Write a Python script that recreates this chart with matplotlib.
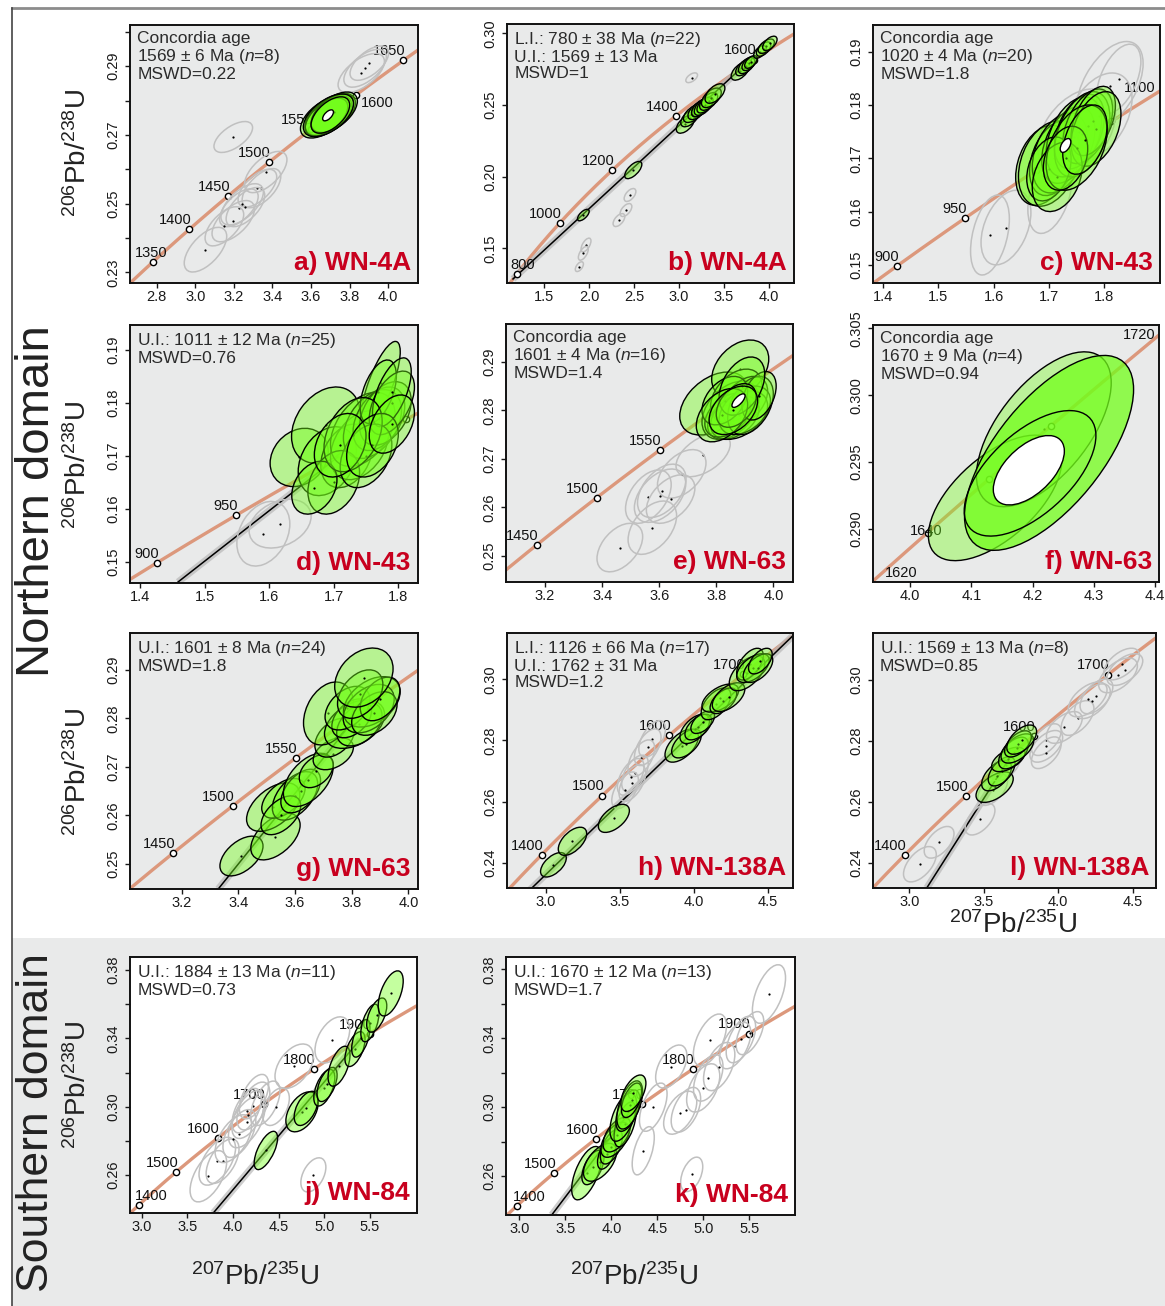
import numpy as np
import matplotlib
matplotlib.use("Agg")
import matplotlib.pyplot as plt
from matplotlib.patches import Ellipse, Rectangle
from matplotlib.lines import Line2D

plt.rcParams['font.family'] = ['Liberation Sans', 'DejaVu Sans']
plt.rcParams['mathtext.fontset'] = 'custom'
plt.rcParams['mathtext.rm'] = 'Liberation Sans'
plt.rcParams['mathtext.it'] = 'Liberation Sans:italic'
plt.rcParams['mathtext.bf'] = 'Liberation Sans:bold'

# ---------------- data ----------------
LAMBDA_238 = 1.55125e-4   # 1/Ma
LAMBDA_235 = 9.8485e-4    # 1/Ma

# ellipses: (207Pb/235U, 206Pb/238U, sx, sy, rho[, fill alpha])
A_GREEN = [(3.67, 0.2751, 0.125, 0.0060, 0.55), (3.70, 0.2760, 0.13, 0.0061, 0.55),
           (3.69, 0.2755, 0.12, 0.0059, 0.55), (3.71, 0.2762, 0.11, 0.0057, 0.55),
           (3.68, 0.2752, 0.11, 0.0055, 0.55), (3.72, 0.2766, 0.12, 0.0059, 0.55),
           (3.69, 0.2757, 0.13, 0.0062, 0.55), (3.70, 0.2758, 0.10, 0.0053, 0.55)]
A_GRAY = [(3.197, 0.2694, 0.10, 0.0045, 0.6), (3.880, 0.2894, 0.11, 0.0055, 0.6),
          (3.902, 0.2909, 0.10, 0.0050, 0.6), (3.86, 0.2880, 0.12, 0.0057, 0.6),
          (3.365, 0.2592, 0.11, 0.0060, 0.6), (3.322, 0.2545, 0.10, 0.0055, 0.6),
          (3.343, 0.2545, 0.10, 0.0057, 0.6), (3.243, 0.2498, 0.11, 0.0060, 0.6),
          (3.226, 0.2488, 0.10, 0.0055, 0.6), (3.260, 0.2490, 0.10, 0.0057, 0.6),
          (3.197, 0.2449, 0.11, 0.0060, 0.6), (3.151, 0.2434, 0.10, 0.0057, 0.6),
          (3.053, 0.2366, 0.11, 0.0065, 0.6)]
A_WHITE = (3.688, 0.2757, 0.028, 0.0016, 0.6)
A_AGES = [1350, 1400, 1450, 1500, 1550, 1600, 1650]

B_GREEN = [(1.937, 0.1732, 0.065, 0.0040, 0.65), (2.492, 0.2046, 0.095, 0.0060, 0.65),
           (3.07, 0.2365, 0.10, 0.0062, 0.55), (3.12, 0.2410, 0.10, 0.0062, 0.55),
           (3.16, 0.2440, 0.11, 0.0062, 0.55), (3.20, 0.2460, 0.10, 0.0062, 0.55),
           (3.23, 0.2475, 0.09, 0.0056, 0.55), (3.24, 0.2480, 0.10, 0.0062, 0.55),
           (3.27, 0.2490, 0.10, 0.0062, 0.55), (3.29, 0.2500, 0.09, 0.0056, 0.55),
           (3.33, 0.2525, 0.10, 0.0062, 0.55), (3.36, 0.2550, 0.11, 0.0068, 0.55),
           (3.40, 0.2580, 0.11, 0.0068, 0.55), (3.68, 0.2735, 0.10, 0.0062, 0.55),
           (3.72, 0.2760, 0.09, 0.0056, 0.55), (3.75, 0.2775, 0.09, 0.0056, 0.55),
           (3.78, 0.2790, 0.08, 0.0050, 0.55), (3.80, 0.2800, 0.07, 0.0044, 0.55),
           (3.90, 0.2870, 0.07, 0.0044, 0.55), (3.94, 0.2890, 0.08, 0.0050, 0.55),
           (3.97, 0.2910, 0.09, 0.0050, 0.55), (4.01, 0.2930, 0.08, 0.0050, 0.55)]
B_GRAY = [(3.141, 0.2690, 0.065, 0.0034, 0.55), (2.456, 0.1872, 0.065, 0.0045, 0.55),
          (2.411, 0.1767, 0.065, 0.0045, 0.55), (2.333, 0.1697, 0.065, 0.0045, 0.55),
          (1.967, 0.1523, 0.055, 0.0048, 0.6), (1.937, 0.1465, 0.055, 0.0048, 0.6),
          (1.893, 0.1372, 0.045, 0.0034, 0.55)]
B_AGES = [800, 1000, 1200, 1400, 1600]
B_LOWER_INTERCEPT = 780
B_UPPER_INTERCEPT = 1569

C_GREEN = [(1.690, 0.1687, 0.050, 0.0075, 0.3), (1.700, 0.1690, 0.055, 0.0080, 0.3),
           (1.710, 0.1700, 0.045, 0.0070, 0.35), (1.720, 0.1710, 0.050, 0.0075, 0.35),
           (1.735, 0.1725, 0.048, 0.0072, 0.4), (1.745, 0.1740, 0.050, 0.0075, 0.4),
           (1.755, 0.1750, 0.045, 0.0070, 0.4), (1.760, 0.1745, 0.050, 0.0080, 0.4),
           (1.770, 0.1760, 0.045, 0.0070, 0.45), (1.780, 0.1770, 0.040, 0.0065, 0.45),
           (1.785, 0.1755, 0.045, 0.0070, 0.4), (1.700, 0.1680, 0.040, 0.0060, 0.3),
           (1.715, 0.1665, 0.045, 0.0065, 0.3), (1.750, 0.1720, 0.055, 0.0080, 0.4),
           (1.730, 0.1700, 0.040, 0.0060, 0.3), (1.765, 0.1735, 0.040, 0.0065, 0.4)]
C_GRAY = [(1.826, 0.1849, 0.040, 0.0065, 0.5), (1.810, 0.1836, 0.060, 0.0083, 0.5),
          (1.790, 0.1780, 0.060, 0.0080, 0.4), (1.750, 0.1750, 0.070, 0.0080, 0.4),
          (1.740, 0.1720, 0.045, 0.0070, 0.4), (1.702, 0.1634, 0.040, 0.0075, 0.4),
          (1.5936, 0.1556, 0.035, 0.0075, 0.4), (1.6225, 0.1570, 0.045, 0.0070, 0.4)]
C_WHITE = (1.730, 0.1724, 0.0096, 0.0013, 0.5)
C_AGES = [900, 950, 1000, 1050]

D_GREEN = [(1.773, 0.1837, 0.030, 0.0079, 0.75), (1.6465, 0.1697, 0.045, 0.0055, 0.2),
           (1.6877, 0.1758, 0.053, 0.0072, 0.3), (1.690, 0.1690, 0.045, 0.0065, 0.3),
           (1.720, 0.1700, 0.040, 0.0060, 0.3), (1.740, 0.1720, 0.045, 0.0065, 0.35),
           (1.745, 0.1750, 0.050, 0.0070, 0.4), (1.760, 0.1760, 0.045, 0.0065, 0.4),
           (1.770, 0.1770, 0.040, 0.0060, 0.4), (1.780, 0.1780, 0.040, 0.0060, 0.4),
           (1.769, 0.1821, 0.028, 0.0060, 0.5), (1.790, 0.1800, 0.035, 0.0060, 0.5),
           (1.790, 0.1820, 0.030, 0.0065, 0.6), (1.700, 0.1650, 0.040, 0.0060, 0.3),
           (1.670, 0.1640, 0.035, 0.0050, 0.3), (1.750, 0.1700, 0.040, 0.0060, 0.35),
           (1.730, 0.1740, 0.045, 0.0070, 0.35), (1.710, 0.1720, 0.040, 0.0060, 0.3),
           (1.760, 0.1720, 0.040, 0.0060, 0.35), (1.790, 0.1760, 0.035, 0.0055, 0.4)]
D_GRAY = [(1.591, 0.1553, 0.041, 0.0061, 0.3), (1.617, 0.1572, 0.048, 0.0046, 0.3)]
D_AGES = [900, 950, 1000, 1050]
D_DISC_LOW = (1.459, 0.1462)
D_UPPER_INTERCEPT = 1011

E_GREEN = [(3.792, 0.2814, 0.120, 0.0065, 0.4), (3.884, 0.2885, 0.100, 0.0060, 0.35),
           (3.850, 0.2800, 0.100, 0.0060, 0.4), (3.870, 0.2830, 0.090, 0.0055, 0.4),
           (3.900, 0.2820, 0.080, 0.0050, 0.4), (3.860, 0.2785, 0.090, 0.0045, 0.4),
           (3.880, 0.2790, 0.100, 0.0050, 0.4), (3.840, 0.2790, 0.080, 0.0045, 0.4),
           (3.900, 0.2800, 0.090, 0.0050, 0.4), (3.920, 0.2810, 0.080, 0.0060, 0.4),
           (3.830, 0.2820, 0.080, 0.0050, 0.4), (3.950, 0.2830, 0.060, 0.0050, 0.4),
           (3.890, 0.2850, 0.080, 0.0060, 0.4), (3.820, 0.2790, 0.090, 0.0055, 0.4),
           (3.870, 0.2810, 0.070, 0.0045, 0.4), (3.860, 0.2800, 0.085, 0.0050, 0.4)]
E_GRAY = [(3.754, 0.2708, 0.095, 0.0045, 0.5), (3.679, 0.2669, 0.085, 0.0050, 0.45),
          (3.609, 0.2634, 0.085, 0.0055, 0.45), (3.603, 0.2624, 0.090, 0.0055, 0.45),
          (3.562, 0.2622, 0.080, 0.0055, 0.45), (3.640, 0.2617, 0.085, 0.0050, 0.45),
          (3.576, 0.2558, 0.085, 0.0055, 0.45), (3.462, 0.2517, 0.080, 0.0050, 0.45)]
E_WHITE = (3.878, 0.2820, 0.023, 0.0014, 0.7)
E_AGES = [1450, 1500, 1550, 1600]

F_GREEN = [(4.139, 0.2923, 0.109, 0.0047, 0.6, 0.38), (4.2185, 0.29744, 0.110, 0.0058, 0.6, 0.38),
           (4.227, 0.29567, 0.138, 0.0073, 0.65, 0.75), (4.196, 0.29414, 0.1075, 0.0047, 0.6, 0.12)]
F_GRAY = []
F_WHITE = (4.194, 0.29437, 0.058, 0.0026, 0.55)
F_AGES = [1640, 1660, 1680]

G_GREEN = [(3.411, 0.2516, 0.076, 0.0041, 0.5), (3.531, 0.2556, 0.087, 0.0048, 0.5),
           (3.523, 0.2617, 0.094, 0.0050, 0.5), (3.559, 0.2635, 0.0765, 0.0041, 0.5),
           (3.600, 0.2640, 0.080, 0.0050, 0.5), (3.550, 0.2600, 0.070, 0.0040, 0.5),
           (3.620, 0.2650, 0.070, 0.0045, 0.5), (3.647, 0.2673, 0.088, 0.0055, 0.5),
           (3.675, 0.2691, 0.060, 0.0034, 0.4), (3.735, 0.2727, 0.071, 0.0033, 0.4),
           (3.740, 0.2760, 0.070, 0.0040, 0.4), (3.718, 0.2810, 0.088, 0.0065, 0.3),
           (3.810, 0.2788, 0.106, 0.0050, 0.4), (3.827, 0.2788, 0.080, 0.0045, 0.4),
           (3.800, 0.2800, 0.070, 0.0040, 0.4), (3.785, 0.2821, 0.079, 0.0045, 0.4),
           (3.871, 0.2834, 0.100, 0.0052, 0.4), (3.860, 0.2820, 0.090, 0.0050, 0.4),
           (3.880, 0.2810, 0.080, 0.0045, 0.4), (3.900, 0.2840, 0.070, 0.0045, 0.4),
           (3.830, 0.2850, 0.080, 0.0050, 0.4), (3.843, 0.2884, 0.103, 0.0061, 0.3)]
G_GRAY = []
G_AGES = [1450, 1500, 1550, 1600]
G_DISC_LOW = (3.329, 0.2448)
G_UPPER_INTERCEPT = 1601

H_GREEN = [(3.050, 0.2393, 0.087, 0.0040, 0.55), (3.179, 0.2470, 0.096, 0.0046, 0.55),
           (3.459, 0.2545, 0.105, 0.0046, 0.55), (3.918, 0.2783, 0.113, 0.0054, 0.55),
           (3.950, 0.2790, 0.100, 0.0047, 0.55), (4.006, 0.2838, 0.100, 0.0048, 0.55),
           (4.030, 0.2844, 0.090, 0.0042, 0.55), (4.060, 0.2860, 0.080, 0.0037, 0.55),
           (4.150, 0.2920, 0.100, 0.0052, 0.55), (4.179, 0.2939, 0.124, 0.0046, 0.55),
           (4.200, 0.2930, 0.090, 0.0042, 0.55), (4.235, 0.2942, 0.110, 0.0047, 0.55),
           (4.360, 0.3020, 0.120, 0.0057, 0.55), (4.380, 0.3050, 0.090, 0.0052, 0.55),
           (4.400, 0.3037, 0.110, 0.0047, 0.55), (4.434, 0.3037, 0.100, 0.0047, 0.55),
           (4.450, 0.3060, 0.080, 0.0042, 0.55)]
H_GRAY = [(3.718, 0.2805, 0.09, 0.0060, 0.55), (3.688, 0.2778, 0.09, 0.0060, 0.55),
          (3.645, 0.2742, 0.09, 0.0060, 0.55), (3.602, 0.2692, 0.09, 0.0060, 0.55),
          (3.573, 0.2681, 0.09, 0.0060, 0.55), (3.584, 0.2661, 0.09, 0.0060, 0.55),
          (3.535, 0.2637, 0.09, 0.0060, 0.55)]
H_AGES = [1400, 1500, 1600, 1700]
H_LOWER_INTERCEPT = 1126
H_UPPER_INTERCEPT = 1762

L_GREEN = [(3.573, 0.2648, 0.125, 0.0050, 0.55), (3.586, 0.2686, 0.100, 0.0050, 0.55),
           (3.620, 0.2700, 0.090, 0.0048, 0.55), (3.665, 0.2739, 0.112, 0.0040, 0.55),
           (3.700, 0.2760, 0.100, 0.0052, 0.55), (3.726, 0.2775, 0.110, 0.0048, 0.55),
           (3.730, 0.2790, 0.090, 0.0043, 0.55), (3.755, 0.2804, 0.100, 0.0048, 0.55)]
L_GRAY = [(3.071, 0.2395, 0.11, 0.0058, 0.55), (3.200, 0.2467, 0.10, 0.0052, 0.55),
          (3.475, 0.2543, 0.10, 0.0052, 0.55), (3.560, 0.2640, 0.10, 0.0052, 0.55),
          (3.650, 0.2720, 0.10, 0.0052, 0.55), (3.920, 0.2804, 0.10, 0.0052, 0.55),
          (3.920, 0.2782, 0.11, 0.0052, 0.55), (3.920, 0.2761, 0.10, 0.0052, 0.55),
          (4.041, 0.2844, 0.12, 0.0052, 0.55), (4.130, 0.2875, 0.11, 0.0057, 0.55),
          (4.198, 0.2936, 0.13, 0.0057, 0.55), (4.230, 0.2930, 0.12, 0.0057, 0.55),
          (4.257, 0.2946, 0.11, 0.0057, 0.55), (4.402, 0.3015, 0.13, 0.0057, 0.55),
          (4.426, 0.3052, 0.12, 0.0052, 0.55), (4.448, 0.3034, 0.12, 0.0052, 0.55)]
L_AGES = [1400, 1500, 1600, 1700]
L_DISC_LOW = (3.117, 0.2317)
L_UPPER_INTERCEPT = 1569

J_GREEN = [(4.360, 0.2744, 0.128, 0.0112, 0.65), (4.756, 0.2970, 0.177, 0.0117, 0.45),
           (4.800, 0.2990, 0.130, 0.0100, 0.5), (5.000, 0.3111, 0.115, 0.0107, 0.55),
           (5.030, 0.3130, 0.110, 0.0100, 0.55), (5.161, 0.3237, 0.120, 0.0117, 0.55),
           (5.336, 0.3337, 0.110, 0.0102, 0.55), (5.400, 0.3400, 0.100, 0.0110, 0.55),
           (5.500, 0.3490, 0.100, 0.0110, 0.55), (5.574, 0.3536, 0.110, 0.0100, 0.55),
           (5.727, 0.3663, 0.137, 0.0132, 0.55)]
J_GRAY = [(3.730, 0.2593, 0.20, 0.0150, 0.55), (3.828, 0.2681, 0.20, 0.0140, 0.55),
          (3.886, 0.2681, 0.18, 0.0130, 0.55), (4.004, 0.2813, 0.20, 0.0140, 0.55),
          (4.070, 0.2843, 0.18, 0.0140, 0.55), (4.150, 0.2910, 0.20, 0.0150, 0.55),
          (4.168, 0.2954, 0.18, 0.0140, 0.55), (4.150, 0.2977, 0.16, 0.0130, 0.55),
          (4.223, 0.3004, 0.18, 0.0140, 0.55), (4.230, 0.3059, 0.16, 0.0130, 0.55),
          (4.354, 0.3020, 0.16, 0.0130, 0.55), (4.471, 0.3000, 0.146, 0.0110, 0.45),
          (4.670, 0.3237, 0.210, 0.0130, 0.45), (5.088, 0.3391, 0.190, 0.0135, 0.45),
          (4.880, 0.2601, 0.137, 0.0100, 0.45)]
J_AGES = [1400, 1500, 1600, 1700, 1800, 1900]
J_DISC_LOW = (3.784, 0.2378)
J_UPPER_INTERCEPT = 1884

K_GREEN = [(3.732, 0.2617, 0.163, 0.0155, 0.6), (3.800, 0.2650, 0.120, 0.0100, 0.55),
           (3.877, 0.2680, 0.180, 0.0110, 0.55), (3.950, 0.2730, 0.100, 0.0090, 0.55),
           (4.000, 0.2770, 0.120, 0.0100, 0.55), (4.040, 0.2811, 0.154, 0.0102, 0.55),
           (4.060, 0.2840, 0.150, 0.0100, 0.55), (4.150, 0.2900, 0.120, 0.0130, 0.55),
           (4.130, 0.2942, 0.145, 0.0140, 0.55), (4.180, 0.2980, 0.130, 0.0120, 0.55),
           (4.200, 0.3013, 0.140, 0.0140, 0.55), (4.220, 0.3040, 0.110, 0.0100, 0.55),
           (4.240, 0.3081, 0.136, 0.0106, 0.55)]
K_GRAY = [(4.347, 0.2747, 0.12, 0.0140, 0.55), (4.456, 0.3000, 0.15, 0.0140, 0.55),
          (4.749, 0.2968, 0.18, 0.0125, 0.5), (4.811, 0.2985, 0.16, 0.0130, 0.5),
          (4.874, 0.2610, 0.12, 0.0100, 0.45), (4.652, 0.3236, 0.17, 0.0125, 0.5),
          (4.999, 0.3112, 0.18, 0.0140, 0.5), (5.054, 0.3170, 0.16, 0.0135, 0.5),
          (5.072, 0.3391, 0.18, 0.0150, 0.55), (5.173, 0.3236, 0.17, 0.0140, 0.5),
          (5.347, 0.3358, 0.17, 0.0135, 0.55), (5.409, 0.3393, 0.16, 0.0135, 0.55),
          (5.507, 0.3430, 0.15, 0.0125, 0.55), (5.714, 0.3657, 0.18, 0.0170, 0.55)]
K_AGES = [1400, 1500, 1600, 1700, 1800, 1900]
K_DISC_LOW = (3.352, 0.2374)
K_UPPER_INTERCEPT = 1670

TEXTS = {
    'a': "Concordia age\n1569 ± 6 Ma ($\\it{n}$=8)\nMSWD=0.22",
    'b': "L.I.: 780 ± 38 Ma ($\\it{n}$=22)\nU.I.: 1569 ± 13 Ma\nMSWD=1",
    'c': "Concordia age\n1020 ± 4 Ma ($\\it{n}$=20)\nMSWD=1.8",
    'd': "U.I.: 1011 ± 12 Ma ($\\it{n}$=25)\nMSWD=0.76",
    'e': "Concordia age\n1601 ± 4 Ma ($\\it{n}$=16)\nMSWD=1.4",
    'f': "Concordia age\n1670 ± 9 Ma ($\\it{n}$=4)\nMSWD=0.94",
    'g': "U.I.: 1601 ± 8 Ma ($\\it{n}$=24)\nMSWD=1.8",
    'h': "L.I.: 1126 ± 66 Ma ($\\it{n}$=17)\nU.I.: 1762 ± 31 Ma\nMSWD=1.2",
    'l': "U.I.: 1569 ± 13 Ma ($\\it{n}$=8)\nMSWD=0.85",
    'j': "U.I.: 1884 ± 13 Ma ($\\it{n}$=11)\nMSWD=0.73",
    'k': "U.I.: 1670 ± 12 Ma ($\\it{n}$=13)\nMSWD=1.7",
}
TAGS = {'a': 'a) WN-4A', 'b': 'b) WN-4A', 'c': 'c) WN-43', 'd': 'd) WN-43', 'e': 'e) WN-63',
        'f': 'f) WN-63', 'g': 'g) WN-63', 'h': 'h) WN-138A', 'l': 'l) WN-138A',
        'j': 'j) WN-84', 'k': 'k) WN-84'}

# ---------------- styling ----------------
W, H = 1165, 1306
CONC_C = '#dc987c'
GREEN_RGB = (0.45, 1.0, 0.1)
GRAY_EDGE = '#c0c0c0'
RED = '#c8001e'
NORTH_BG = '#e9eaea'
TXT = '#2b2b2b'

fig = plt.figure(figsize=(W / 100, H / 100), dpi=100)
fig.add_artist(Rectangle((12 / W, 0), 1 - 12 / W, (H - 938) / H, transform=fig.transFigure,
                         facecolor='#e9eaea', edgecolor='none', zorder=0))
fig.add_artist(Line2D([12 / W, 1], [1 - 8 / H, 1 - 8 / H], color='#8c8c8c', lw=2, zorder=1))
fig.add_artist(Line2D([12 / W, 12 / W], [0, 1 - 8 / H], color='#444444', lw=1.2, zorder=1))


def conc(t):
    return np.exp(LAMBDA_235 * t) - 1, np.exp(LAMBDA_238 * t) - 1


def add_ax(box):
    l, t, r, b = box
    return fig.add_axes([l / W, 1 - b / H, (r - l) / W, (b - t) / H])


def ellipse(ax, e, kind, z):
    x, y, sx, sy, rho = e[:5]
    cov = np.array([[sx * sx, rho * sx * sy], [rho * sx * sy, sy * sy]])
    w, v = np.linalg.eigh(cov)
    ang = np.degrees(np.arctan2(v[1, 1], v[0, 1]))
    if kind == 'green':
        a = e[5] if len(e) > 5 else 0.42
        kw = dict(facecolor=(*GREEN_RGB, a), edgecolor='black', lw=1.0)
    elif kind == 'gray':
        kw = dict(facecolor='none', edgecolor=GRAY_EDGE, lw=1.1)
    else:
        kw = dict(facecolor='white', edgecolor='black', lw=1.0)
    ax.add_patch(Ellipse((x, y), 2 * np.sqrt(w[1]), 2 * np.sqrt(w[0]), angle=ang, zorder=z, **kw))
    if kind != 'white':
        ax.plot([x], [y], 'o', ms=1.6, color='black', mew=0, zorder=z)


def panel(key, box, xlim, ylim, xticks, xlabels, yticks, ylabels, bg, green, gray,
          white=None, ages=(), label_ages=(), special=None, disc=None, extra=()):
    ax = add_ax(box)
    ax.set_facecolor(bg)
    ax.set_xlim(*xlim)
    ax.set_ylim(*ylim)
    # concordia
    t0 = np.log1p(xlim[0]) / LAMBDA_235
    t1 = np.log1p(xlim[1]) / LAMBDA_235
    tt = np.linspace(t0, t1, 400)
    cx, cy = conc(tt)
    ax.plot(cx, cy, color=CONC_C, lw=2.4, zorder=1)
    # discordia
    if disc is not None:
        (x0, y0), (x1, y1) = disc
        ax.plot([x0, x1], [y0, y1], color='#b8b8b8', lw=5, alpha=0.7, zorder=1.5,
                solid_capstyle='butt')
        ax.plot([x0, x1], [y0, y1], color='black', lw=1.1, zorder=1.6)
    # age marks
    special = special or {}
    for age in ages:
        mx, my = conc(age)
        ax.plot([mx], [my], 'o', ms=4.5, mfc='white', mec='black', mew=1.0, zorder=3)
    for age in label_ages:
        mx, my = conc(age)
        ha, va, dx, dy = special.get(age, ('right', 'bottom', 1.5, 1.5))
        ax.annotate(str(age), (mx, my), xytext=(dx, dy), textcoords='offset points',
                    ha=ha, va=va, fontsize=10.5, color='#111111', zorder=3,
                    annotation_clip=False)
    for txt, fx, fy, ha, va in extra:
        ax.text(fx, fy, txt, transform=ax.transAxes, ha=ha, va=va, fontsize=10.5,
                color='#111111', zorder=3)
    z = 5
    for e in gray:
        ellipse(ax, e, 'gray', z)
    for e in green:
        ellipse(ax, e, 'green', z)
    if white is not None:
        ellipse(ax, white, 'white', 6)
    # texts
    ax.text(0.025, 0.978, TEXTS[key], transform=ax.transAxes, ha='left', va='top',
            fontsize=12.5, color=TXT, linespacing=1.1, zorder=8)
    ax.text(0.975, 0.03, TAGS[key], transform=ax.transAxes, ha='right', va='bottom',
            fontsize=19, fontweight='bold', color=RED, zorder=8)
    # axes style
    ax.set_xticks(xticks)
    ax.set_xticklabels(xlabels)
    ax.set_yticks(yticks)
    ax.set_yticklabels(ylabels)
    ax.tick_params(axis='both', direction='out', length=3.6, width=1.0, labelsize=10.5,
                   colors='#1a1a1a')
    ax.tick_params(axis='x', pad=1.5)
    ax.tick_params(axis='y', pad=3, labelrotation=90)
    for lab in ax.get_yticklabels():
        lab.set_va('center')
    for s in ax.spines.values():
        s.set_linewidth(1.4)
        s.set_color('#111111')
    return ax


def ticks(a, b, step):
    n = int(round((b - a) / step)) + 1
    return [a + i * step for i in range(n)]


# a
yt = ticks(0.23, 0.30, 0.01)
panel('a', (130, 25, 418, 283), (2.662, 4.154), (0.2269, 0.302),
      ticks(2.8, 4.0, 0.2), ['2.8', '3.0', '3.2', '3.4', '3.6', '3.8', '4.0'],
      yt, ['0.23', '', '0.25', '', '0.27', '', '0.29', ''], NORTH_BG,
      A_GREEN, A_GRAY, A_WHITE, A_AGES, A_AGES,
      special={1600: ('left', 'top', 3, -1), 1350: ('center', 'bottom', -1, 1.5)})
# b
panel('b', (507, 24, 794, 283), (1.089, 4.278), (0.1258, 0.3065),
      ticks(1.5, 4.0, 0.5), ['1.5', '2.0', '2.5', '3.0', '3.5', '4.0'],
      [0.15, 0.20, 0.25, 0.30], ['0.15', '0.20', '0.25', '0.30'], NORTH_BG,
      B_GREEN, B_GRAY, None, B_AGES, B_AGES,
      special={800: ('left', 'bottom', -4.5, 1.5)},
      disc=(conc(B_LOWER_INTERCEPT), conc(B_UPPER_INTERCEPT)))
# c
panel('c', (873, 25, 1160, 283), (1.3825, 1.9005), (0.1466, 0.195),
      ticks(1.4, 1.8, 0.1), ['1.4', '1.5', '1.6', '1.7', '1.8'],
      ticks(0.15, 0.19, 0.01), ['0.15', '0.16', '0.17', '0.18', '0.19'], NORTH_BG,
      C_GREEN, C_GRAY, C_WHITE, C_AGES, [900, 950],
      extra=[('1100', 0.985, 0.728, 'right', 'bottom')])
# d
panel('d', (130, 325, 418, 583), (1.3845, 1.8305), (0.146, 0.1947),
      ticks(1.4, 1.8, 0.1), ['1.4', '1.5', '1.6', '1.7', '1.8'],
      ticks(0.15, 0.19, 0.01), ['0.15', '0.16', '0.17', '0.18', '0.19'], NORTH_BG,
      D_GREEN, D_GRAY, None, D_AGES, [900, 950],
      disc=(D_DISC_LOW, conc(D_UPPER_INTERCEPT)))
# e
panel('e', (506, 324, 793, 582), (3.063, 4.069), (0.2446, 0.2978),
      ticks(3.2, 4.0, 0.2), ['3.2', '3.4', '3.6', '3.8', '4.0'],
      ticks(0.25, 0.29, 0.01), ['0.25', '0.26', '0.27', '0.28', '0.29'], NORTH_BG,
      E_GREEN, E_GRAY, E_WHITE, E_AGES, [1450, 1500, 1550])
# f
panel('f', (873, 325, 1159, 582), (3.9396, 4.4065), (0.286, 0.30525),
      ticks(4.0, 4.4, 0.1), ['4.0', '4.1', '4.2', '4.3', '4.4'],
      [0.290, 0.295, 0.300, 0.305], ['0.290', '0.295', '0.300', '0.305'], NORTH_BG,
      F_GREEN, F_GRAY, F_WHITE, F_AGES, [1640],
      special={1640: ('center', 'center', -1, 1)},
      extra=[('1620', 0.042, 0.008, 'left', 'bottom'), ('1720', 0.988, 0.99, 'right', 'top')])
# g
panel('g', (130, 633, 418, 889), (3.0176, 4.034), (0.2448, 0.2976),
      ticks(3.2, 4.0, 0.2), ['3.2', '3.4', '3.6', '3.8', '4.0'],
      ticks(0.25, 0.29, 0.01), ['0.25', '0.26', '0.27', '0.28', '0.29'], NORTH_BG,
      G_GREEN, G_GRAY, None, G_AGES, [1450, 1500, 1550],
      disc=(G_DISC_LOW, conc(G_UPPER_INTERCEPT)))
# h
panel('h', (507, 633, 793, 888), (2.736, 4.671), (0.2317, 0.3152),
      ticks(3.0, 4.5, 0.5), ['3.0', '3.5', '4.0', '4.5'],
      [0.24, 0.26, 0.28, 0.30], ['0.24', '0.26', '0.28', '0.30'], NORTH_BG,
      H_GREEN, H_GRAY, None, H_AGES, H_AGES,
      disc=(conc(H_LOWER_INTERCEPT), conc(H_UPPER_INTERCEPT)))
# l
panel('l', (873, 633, 1156, 888), (2.756, 4.657), (0.2317, 0.3154),
      ticks(3.0, 4.5, 0.5), ['3.0', '3.5', '4.0', '4.5'],
      [0.24, 0.26, 0.28, 0.30], ['0.24', '0.26', '0.28', '0.30'], NORTH_BG,
      L_GREEN, L_GRAY, None, L_AGES, L_AGES,
      disc=(L_DISC_LOW, conc(L_UPPER_INTERCEPT)))
# j
panel('j', (130, 957, 417, 1213), (2.872, 6.015), (0.2378, 0.3876),
      ticks(3.0, 5.5, 0.5), ['3.0', '3.5', '4.0', '4.5', '5.0', '5.5'],
      ticks(0.26, 0.38, 0.02), ['0.26', '', '0.30', '', '0.34', '', '0.38'], 'white',
      J_GREEN, J_GRAY, None, J_AGES, J_AGES,
      special={1400: ('left', 'bottom', -3, 1.5)},
      disc=(J_DISC_LOW, conc(J_UPPER_INTERCEPT)))
# k
panel('k', (506, 957, 795, 1215), (2.855, 5.997), (0.2374, 0.3872),
      ticks(3.0, 5.5, 0.5), ['3.0', '3.5', '4.0', '4.5', '5.0', '5.5'],
      ticks(0.26, 0.38, 0.02), ['0.26', '', '0.30', '', '0.34', '', '0.38'], 'white',
      K_GREEN, K_GRAY, None, K_AGES, K_AGES,
      special={1400: ('left', 'bottom', -3, 1.5)},
      disc=(K_DISC_LOW, conc(K_UPPER_INTERCEPT)))

# axis titles
YLAB = r'$^{206}$Pb/$^{238}$U'
XLAB = r'$^{207}$Pb/$^{235}$U'
for yc in (153, 465, 772, 1085):
    fig.text(78 / W, 1 - yc / H, YLAB, rotation=90, ha='center', va='center',
             fontsize=20, color='#222222')
for xc, yc in ((1013, 925), (255, 1277), (634, 1277)):
    fig.text(xc / W, 1 - yc / H, XLAB, ha='center', va='center', fontsize=20, color='#222222')

fig.text(37 / W, 1 - 501 / H, 'Northern domain', rotation=90, ha='center', va='center',
         fontsize=34, color='#222222')
fig.text(37 / W, 1 - 1123 / H, 'Southern domain', rotation=90, ha='center', va='center',
         fontsize=32, color='#222222')

fig.savefig('out.png', dpi=100)
